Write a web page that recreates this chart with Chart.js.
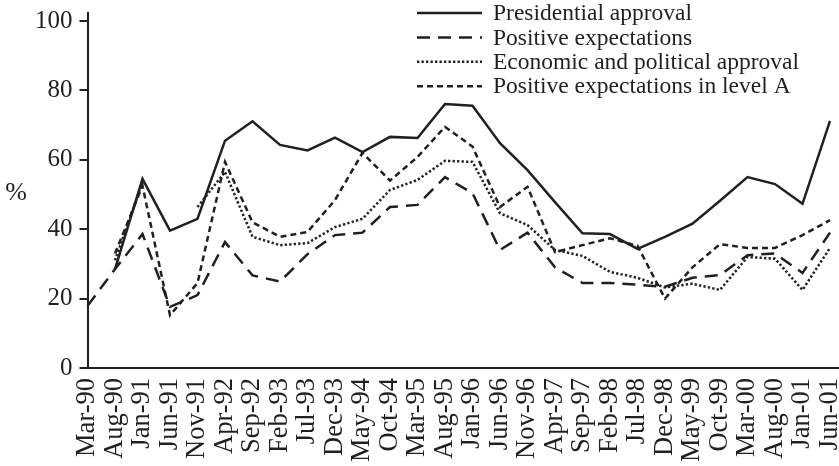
<!DOCTYPE html>
<html>
<head>
<meta charset="utf-8">
<script src="https://cdn.jsdelivr.net/npm/chart.js@4/dist/chart.umd.min.js"></script>
<style>
  html, body { margin: 0; padding: 0; background: #fff; }
  #graphique { display: block; }
</style>
</head>
<body>
<canvas id="graphique" width="839" height="466"></canvas>
<script>
// périodes (axe horizontal)
const periodes = ['Mar-90', 'Aug-90', 'Jan-91', 'Jun-91', 'Nov-91', 'Apr-92', 'Sep-92', 'Feb-93',
    'Jul-93', 'Dec-93', 'May-94', 'Oct-94', 'Mar-95', 'Aug-95', 'Jan-96', 'Jun-96', 'Nov-96',
    'Apr-97', 'Sep-97', 'Feb-98', 'Jul-98', 'Dec-98', 'May-99', 'Oct-99', 'Mar-00', 'Aug-00',
    'Jan-01', 'Jun-01'];

// séries en %
const approbationPresidentielle = [null, 28.5, 54.5, 39.6, 43, 65.5, 71.1, 64.3, 62.7, 66.4, 62.2,
    66.6, 66.3, 76.1, 75.6, 64.8, 57, 47.8, 38.8, 38.6, 34.3, 37.8, 41.6, 48.2, 55, 53, 47.3, 71.2];
const attentesPositives = [17.9, 28.5, 38.6, 17.6, 21, 36.3, 26.7, 24.9, 32.8, 38.3, 39, 46.4,
    47, 55, 50.4, 34, 39, 29, 24.5, 24.5, 24, 23.4, 26, 26.8, 32.5, 33, 27.4, 39];
const approbationEcoPolitique = [null, 31, 53.5, null, 46.4, 56.5, 37.8, 35.4, 36, 40.6, 43, 51.3,
    54.2, 59.7, 59.4, 44.6, 41.2, 34, 32.3, 27.7, 26, 23.2, 24.3, 22.5, 32, 31.5, 22.5, 34.6];
const attentesNiveauA = [null, 33, 52.5, 15.2, 24.5, 59.4, 42, 37.8, 39.2, 48.4, 62, 54, 60.8,
    69.5, 63.8, 46.4, 52.2, 33.4, 35.4, 37.4, 35.2, 20, 29, 35.7, 34.6, 34.6, 38.3, 42.6];

const graduationsY = [0, 20, 40, 60, 80, 100];

const encre = '#231f20';
const police = 'Liberation Serif, Times New Roman, serif';

// légende dessinée dans la zone du graphique (en haut à droite)
const legendeInterne = {
    id: 'legendeInterne',
    afterDraw(chart) {
        const ctx = chart.ctx;
        const zone = chart.chartArea;
        ctx.save();
        // l'axe horizontal continue jusqu'au bord du canvas
        ctx.beginPath();
        ctx.strokeStyle = encre;
        ctx.lineWidth = 2;
        ctx.moveTo(zone.right, zone.bottom);
        ctx.lineTo(chart.width, zone.bottom);
        ctx.stroke();

        ctx.font = '23.5px ' + police;
        ctx.textBaseline = 'middle';
        ctx.fillStyle = encre;
        chart.data.datasets.forEach((ds, i) => {
            const y = 13 + i * 24.4;
            ctx.beginPath();
            ctx.strokeStyle = encre;
            ctx.lineWidth = ds.borderWidth;
            ctx.setLineDash(ds.borderDash || []);
            ctx.moveTo(417, y);
            ctx.lineTo(482, y);
            ctx.stroke();
            ctx.setLineDash([]);
            ctx.fillText(ds.label, 493, y + 1);
        });
        // unité de l'axe vertical
        ctx.font = '26px ' + police;
        ctx.textAlign = 'center';
        ctx.fillText('%', 16, 193);
        ctx.restore();
    }
};

const serie = (label, data, dash) => ({
    label: label,
    data: data,
    borderColor: encre,
    borderWidth: 2.5,
    borderDash: dash,
    borderCapStyle: 'butt',
    pointRadius: 0,
    tension: 0,
    fill: false,
    spanGaps: false
});

const ctx = document.getElementById('graphique').getContext('2d');
new Chart(ctx, {
    type: 'line',
    data: {
        labels: periodes,
        datasets: [
            serie('Presidential approval', approbationPresidentielle, []),
            serie('Positive expectations', attentesPositives, [13, 8]),
            serie('Economic and political approval', approbationEcoPolitique, [2.3, 2.2]),
            serie('Positive expectations in level A', attentesNiveauA, [6, 4])
        ]
    },
    options: {
        responsive: false,
        animation: false,
        devicePixelRatio: 1,
        layout: { padding: { left: 28, top: 13, right: 9, bottom: 0 } },
        plugins: {
            legend: { display: false },
            tooltip: { enabled: false }
        },
        scales: {
            x: {
                type: 'category',
                offset: false,
                afterFit: (axe) => {
                    axe.height = 98;
                    axe.paddingLeft = 0;
                    axe.paddingRight = 0;
                },
                grid: { display: false, drawTicks: false },
                border: { display: true, color: encre, width: 2 },
                ticks: {
                    autoSkip: false,
                    minRotation: 90,
                    maxRotation: 90,
                    padding: 10,
                    color: encre,
                    font: { family: police, size: 26.5 }
                }
            },
            y: {
                min: 0,
                max: 102.3,
                afterBuildTicks: (axe) => {
                    axe.ticks = graduationsY.map(v => ({ value: v }));
                },
                afterFit: (axe) => {
                    axe.paddingTop = 0;
                    axe.paddingBottom = 0;
                },
                grid: { drawOnChartArea: false, tickLength: 8, color: encre, lineWidth: 2 },
                border: { display: true, color: encre, width: 2 },
                ticks: {
                    padding: 7,
                    color: encre,
                    font: { family: police, size: 25 }
                }
            }
        }
    },
    plugins: [legendeInterne]
});
</script>
</body>
</html>
